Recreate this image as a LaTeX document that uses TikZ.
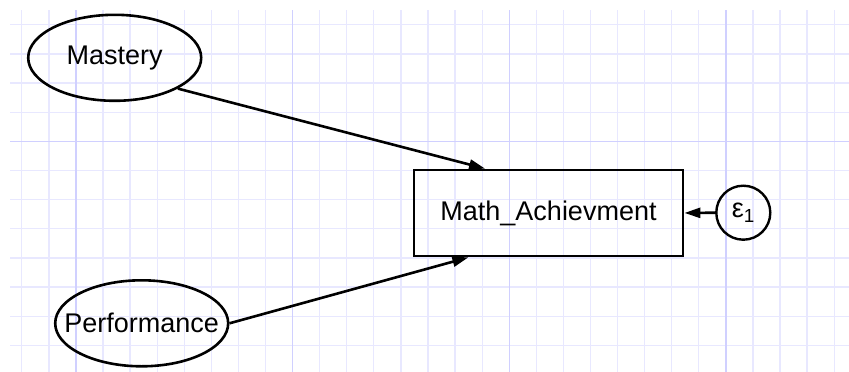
\documentclass[tikz,border=0pt]{standalone}
\usepackage{fontspec}
\setmainfont{Liberation Sans}
\usetikzlibrary{arrows.meta,shapes.geometric}

\definecolor{gridminor}{HTML}{E8E8FF}
\definecolor{gridmajor}{HTML}{D0D0FF}

\tikzset{
  labelfont/.style={font=\fontsize{27}{32}\selectfont},
  latent/.style={ellipse, draw, line width=2.6pt, minimum width=173pt, minimum height=86pt, inner xsep=-20pt, inner ysep=0pt, labelfont},
  observed/.style={rectangle, draw, line width=2.8pt, minimum width=269pt, minimum height=86pt, inner sep=0pt, labelfont},
  errnode/.style={circle, draw, line width=2.4pt, minimum size=54pt, inner sep=0pt, labelfont},
  regpath/.style={line width=2.6pt, -{Triangle[length=16pt,width=10pt]}}
}

\begin{document}
\begin{tikzpicture}[x=1pt, y=-1pt]
        \useasboundingbox (0,0) rectangle (849,372);

        % Background grid
        \foreach \k in {0,...,30}
            \draw[gridminor, line width=1.3pt] ({21.8+27.08*\k},10) -- ({21.8+27.08*\k},372);
        \foreach \k in {0,...,11}
            \draw[gridminor, line width=1.3pt] (10,{24.7+29.15*\k}) -- (849,{24.7+29.15*\k});
        \foreach \k in {2,10,18,26}
            \draw[gridmajor, line width=1.3pt] ({21.8+27.08*\k},10) -- ({21.8+27.08*\k},372);
        \draw[gridmajor, line width=1.3pt] (10,141.3) -- (849,141.3);

        % Latent variables
        \node[latent] (mastery) at (114.7, 57.8) {Mastery};
        \node[latent] (perf) at (141.7, 323.3) {Performance};

        % Outcome and error term
        \node[observed] (ach) at (548.5, 213) {Math\_Achievment};
        \node[errnode] (eps) at (743.3, 212.7) {ε\textsubscript{1}};

        % Paths
        \draw[regpath] (mastery.-26) -- (ach.145);
        \draw[regpath] (perf.east) -- (ach.209);
        \draw[regpath] (eps.west) -- (ach.east);
    \end{tikzpicture}
\end{document}
